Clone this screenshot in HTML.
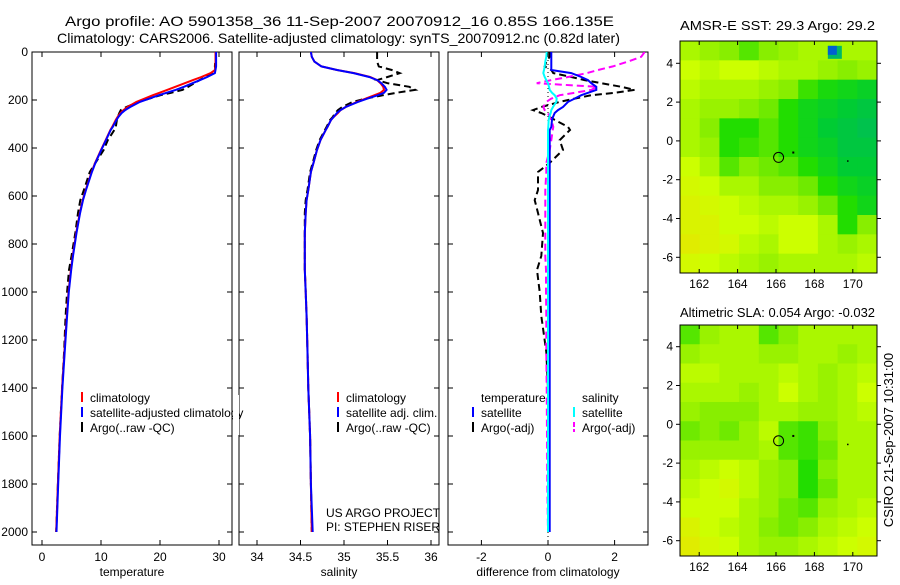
<!DOCTYPE html>
<html><head><meta charset="utf-8"><style>
body{margin:0;background:#fff}
svg text{font-family:"Liberation Sans",sans-serif;font-size:12px;fill:#000}
</style></head><body>
<svg id="c" width="900" height="580" xmlns="http://www.w3.org/2000/svg">
<rect width="900" height="580" fill="#fff"/>
<text x="65" y="26" textLength="549" lengthAdjust="spacingAndGlyphs" style="font-size:14px">Argo profile: AO 5901358_36 11-Sep-2007 20070912_16 0.85S 166.135E</text>
<text x="57" y="43" textLength="563" lengthAdjust="spacingAndGlyphs" style="font-size:14px">Climatology: CARS2006. Satellite-adjusted climatology: synTS_20070912.nc (0.82d later)</text>
<text x="680" y="30" textLength="195" lengthAdjust="spacingAndGlyphs" style="font-size:13px">AMSR-E SST: 29.3 Argo: 29.2</text>
<text x="680" y="317" textLength="195" lengthAdjust="spacingAndGlyphs" style="font-size:13px">Altimetric SLA: 0.054 Argo: -0.032</text>
<text transform="translate(893,440) rotate(-90)" text-anchor="middle" style="font-size:13px">CSIRO 21-Sep-2007 10:31:00</text>
<g id="g"></g>
</svg>
<script>
const depths=[0,20,40,60,75,88,104,117,130,145,158,170,180,194,208,229,242,254,271,283,312,325,367,408,462,500,575,617,671,754,850,908,1000,1100,1250,1400,1600,1800,2000];
const tempClim=[29.4,29.4,29.4,29.4,29.3,28.6,27.0,25.6,24.2,22.6,21.2,19.9,18.8,17.4,16.0,14.5,13.8,13.3,12.8,12.5,11.9,11.6,10.8,10.0,9.0,8.4,7.4,6.9,6.4,5.8,5.2,4.9,4.5,4.2,3.8,3.4,3.0,2.7,2.4];
const tempSatDiff=[.1,.1,.1,.1,.1,.7,1.0,1.2,1.3,1.45,1.45,1.2,1.0,.8,.6,.45,.3,.2,.15,.12,.1,.05,.05,.05,.05,.05,.05,.05,.05,.05,.05,.05,.05,.05,.05,.05,.05,.05,.05];
const tempArgoDiff=[.05,.05,-.05,-.1,.1,.16,.7,1.1,1.6,2.2,2.6,2.0,1.3,.8,.35,-.2,-.45,-.2,.05,.2,.6,.66,.35,.45,.05,-.3,-.3,-.4,-.3,-.15,-.2,-.33,-.25,-.2,-.05,0,0,0,0];
const salClim=[34.62,34.63,34.66,34.74,34.92,35.12,35.30,35.38,35.42,35.45,35.46,35.42,35.35,35.25,35.15,35.02,34.96,34.93,34.88,34.85,34.81,34.79,34.73,34.69,34.65,34.62,34.59,34.57,34.56,34.55,34.55,34.55,34.56,34.57,34.58,34.59,34.61,34.62,34.63];
const salSat=[34.62,34.63,34.66,34.74,34.92,35.11,35.29,35.38,35.43,35.47,35.49,35.46,35.39,35.27,35.16,35.02,34.96,34.92,34.88,34.85,34.81,34.79,34.73,34.69,34.65,34.62,34.59,34.57,34.56,34.55,34.55,34.55,34.56,34.57,34.58,34.59,34.61,34.62,34.64];
const salArgo=[35.38,35.38,35.38,35.40,35.55,35.64,35.5,35.38,35.5,35.75,35.82,35.6,35.45,35.25,35.1,34.98,34.93,34.9,34.87,34.84,34.8,34.78,34.72,34.68,34.64,34.61,34.58,34.56,34.55,34.55,34.55,34.55,34.56,34.57,34.58,34.59,34.61,34.62,34.63];
const salSatDiff=[-.04,-.05,-.08,-.1,-.12,-.14,-.1,-.05,0,.03,.05,.12,.2,.26,.25,.15,.1,.08,.04,.02,.01,0,0,0,0,0,0,0,0,0,0,0,0,0,0,0,0,0,0];
const salArgoDiff=[2.9,2.8,2.4,1.95,1.5,1.17,.6,.1,-.34,1.47,1.3,.8,.35,.1,-.05,-.14,-.1,0,.05,.1,.16,.14,.1,.05,-.05,-.05,-.08,-.08,-.08,-.08,-.08,-.06,-.06,-.05,-.05,-.04,-.03,-.02,0];
const depthTicks=[0,200,400,600,800,1000,1200,1400,1600,1800,2000];
const tempTicks=[0,10,20,30];
const salTicks=[34,34.5,35,35.5,36];
const diffTicks=[-2,0,2];
const lonTicks=[162,164,166,168,170];
const latTicks=[4,2,0,-2,-4,-6];
const sstGrid=[
[.3,.35,.4,.5,.4,.35,.3,.3,.3,.3],
[.2,.25,.2,.2,.25,.3,.3,.35,.4,.35],
[.25,.3,.3,.3,.35,.4,.55,.65,.7,.75],
[.3,.35,.35,.4,.45,.6,.7,.75,.8,.85],
[.3,.4,.6,.6,.5,.6,.7,.8,.85,.9],
[.3,.35,.6,.55,.5,.6,.7,.75,.85,.85],
[.2,.3,.5,.4,.45,.5,.6,.7,.8,.8],
[.15,.2,.3,.3,.4,.4,.45,.6,.7,.75],
[.1,.15,.2,.25,.3,.3,.35,.45,.6,.7],
[.1,.1,.2,.2,.25,.2,.2,.3,.6,.4],
[.05,.1,.15,.25,.3,.2,.2,.3,.35,.3],
[.15,.2,.25,.3,.35,.3,.3,.3,.3,.25]];
const slaGrid=[
[.5,.35,.3,.3,.5,.4,.3,.3,.3,.3],
[.35,.3,.3,.3,.35,.35,.3,.3,.35,.3],
[.25,.25,.3,.3,.3,.25,.3,.35,.3,.25],
[.3,.3,.3,.35,.3,.2,.3,.35,.3,.2],
[.35,.4,.4,.4,.3,.3,.35,.35,.3,.25],
[.45,.4,.45,.35,.25,.5,.55,.4,.3,.3],
[.35,.35,.35,.35,.3,.5,.55,.45,.3,.3],
[.3,.25,.2,.25,.35,.4,.6,.4,.3,.3],
[.25,.2,.15,.25,.35,.4,.6,.45,.3,.3],
[.2,.2,.2,.3,.35,.45,.5,.35,.3,.25],
[.1,.2,.25,.3,.4,.45,.4,.3,.25,.2],
[.05,.15,.2,.3,.35,.35,.3,.25,.2,.15]];
const floatLon=166.135, floatLat=-0.85;

const NS='http://www.w3.org/2000/svg', G=document.getElementById('g');
function mk(t,a,p){const e=document.createElementNS(NS,t);for(const k in a)e.setAttribute(k,a[k]);(p||G).appendChild(e);return e;}
const yD=d=>52+d*0.24;
const xT=v=>42+v*5.9, xS=v=>257+(v-34)*87, xDf=v=>548+v*33.3;
const panels=[{x0:32,x1:232,sx:xT,ticks:tempTicks,lab:'temperature',n:'temperature'},
{x0:239,x1:439,sx:xS,ticks:salTicks,lab:'salinity',n:'salinity'},
{x0:448,x1:648,sx:xDf,ticks:diffTicks,lab:'difference from climatology',n:'difference'}];
const B=545;
panels.forEach((p,i)=>{
  const cp=mk('clipPath',{id:'cp'+i});mk('rect',{x:p.x0,y:52,width:p.x1-p.x0,height:B-52},cp);
  const fr=mk('rect',{x:p.x0,y:52,width:p.x1-p.x0,height:B-52,fill:'none',stroke:'#000','stroke-width':1});
  
  
  depthTicks.forEach(d=>{const y=yD(d);
    mk('line',{x1:p.x0,x2:p.x0+5,y1:y,y2:y,stroke:'#000'});mk('line',{x1:p.x1,x2:p.x1-5,y1:y,y2:y,stroke:'#000'});
    if(i===0){const t=mk('text',{x:28,y:y+4,'text-anchor':'end'});t.textContent=d;
      
      }
  });
  p.ticks.forEach(v=>{const x=p.sx(v);
    mk('line',{x1:x,x2:x,y1:52,y2:57,stroke:'#000'});mk('line',{x1:x,x2:x,y1:B,y2:B-5,stroke:'#000'});
    const t=mk('text',{x:x,y:B+16,'text-anchor':'middle'});t.textContent=v;
    
    });
  const t=mk('text',{x:(p.x0+p.x1)/2,y:576,'text-anchor':'middle'});t.textContent=p.lab;
  
  
});
function line(vals,sx,col,dash,ci,name){
  const pts=vals.map((v,k)=>sx(v).toFixed(1)+','+yD(depths[k]).toFixed(1)).join(' ');
  const a={points:pts,fill:'none',stroke:col,'stroke-width':2,'clip-path':'url(#cp'+ci+')'};
  if(dash)a['stroke-dasharray']='7,4';
  const e=mk('polyline',a);
  
  
}
const tempSat=tempClim.map((v,k)=>v+tempSatDiff[k]);
const tempArgo=tempClim.map((v,k)=>v+tempArgoDiff[k]);
line(tempArgo,xT,'#000',1,0,'temp-argo-line');
line(tempClim,xT,'#f00',0,0,'temp-climatology-line');
line(tempSat,xT,'#00f',0,0,'temp-satellite-line');
line(salArgo,xS,'#000',1,1,'sal-argo-line');
line(salClim,xS,'#f00',0,1,'sal-climatology-line');
line(salSat,xS,'#00f',0,1,'sal-satellite-line');
mk('line',{x1:548,x2:548,y1:52,y2:B,stroke:'#000','stroke-dasharray':'1,3'});
line(tempArgoDiff,xDf,'#000',1,2,'temp-argo-diff-line');
line(salArgoDiff,xDf,'#f0f',1,2,'sal-argo-diff-line');
line(tempSatDiff,xDf,'#00f',0,2,'temp-satellite-diff-line');
line(salSatDiff,xDf,'#0ff',0,2,'sal-satellite-diff-line');
function leg(x,y,col,txt,name,dash){
  if(col){const l=mk('line',{x1:x,x2:x,y1:y-10,y2:y,stroke:col,'stroke-width':2});if(dash)l.setAttribute('stroke-dasharray','5,2');}
  const t=mk('text',{x:x+8,y:y});t.textContent=txt;
  
  
}
leg(82,402,'#f00','climatology','legend-climatology');
leg(82,417,'#00f','satellite-adjusted climatology','legend-satellite-adjusted');
leg(82,432,'#000','Argo(..raw -QC)','legend-argo');
leg(338,402,'#f00','climatology','legend-sal-climatology');
leg(338,417,'#00f','satellite adj. clim.','legend-sal-satellite');
leg(338,432,'#000','Argo(..raw -QC)','legend-sal-argo');
leg(473,402,null,'temperature','legend-temperature-header');
leg(473,417,'#00f','satellite','legend-diff-temp-satellite');
leg(473,432,'#000','Argo(-adj)','legend-diff-temp-argo');
leg(574,402,null,'salinity','legend-salinity-header');
leg(574,417,'#0ff','satellite','legend-diff-sal-satellite');
leg(574,432,'#f0f','Argo(-adj)','legend-diff-sal-argo',1);
mk('rect',{x:233,y:395,width:6,height:40,fill:'#fff'});
mk('line',{x1:232,x2:232,y1:52,y2:B,stroke:'#000'});
const t1=mk('text',{x:326,y:517,textLength:114,lengthAdjust:'spacingAndGlyphs'});t1.textContent='US ARGO PROJECT';


const t2=mk('text',{x:326,y:531,textLength:114,lengthAdjust:'spacingAndGlyphs'});t2.textContent='PI: STEPHEN RISER';



const stops=[[0,[230,230,0]],[.2,[204,255,0]],[.4,[136,238,0]],[.6,[34,221,0]],[.8,[0,204,51]],[1,[0,184,102]]];
function cmap(v){for(let i=1;i<stops.length;i++){if(v<=stops[i][0]){const a=stops[i-1],b=stops[i],f=(v-a[0])/(b[0]-a[0]);return 'rgb('+a[1].map((c,j)=>Math.round(c+(b[1][j]-c)*f)).join(',')+')';}}return 'rgb(0,184,102)';}
function map(grid,top,bot,name,y4){
  const x0=680,x1=877,lonL=161.0,lonR=171.26,dy=19.4;
  const mx=lon=>x0+(lon-lonL)*(x1-x0)/(lonR-lonL);
  const my=lat=>y4+(4-lat)*dy;
  const rows=grid.length,cols=grid[0].length,cw=(x1-x0)/cols,ch=(bot-top)/rows;
  grid.forEach((r,ri)=>r.forEach((v,ci)=>{
    const c=mk('rect',{x:x0+ci*cw,y:top+ri*ch,width:cw+0.5,height:ch+0.5,fill:cmap(v)});
    
    
  }));
  const f=mk('rect',{x:x0,y:top,width:x1-x0,height:bot-top,fill:'none',stroke:'#000'});
  
  
  lonTicks.forEach(l=>{const x=mx(l);mk('line',{x1:x,x2:x,y1:top,y2:top+4,stroke:'#000'});mk('line',{x1:x,x2:x,y1:bot,y2:bot-4,stroke:'#000'});
    const t=mk('text',{x:x,y:bot+15,'text-anchor':'middle'});t.textContent=l;
    
    });
  latTicks.forEach(l=>{const y=my(l);mk('line',{x1:x0,x2:x0-4,y1:y,y2:y,stroke:'#000'});mk('line',{x1:x1,x2:x1+4,y1:y,y2:y,stroke:'#000'});
    const t=mk('text',{x:673,y:y+4,'text-anchor':'end'});t.textContent=l;
    
    });
  const m=mk('circle',{cx:mx(floatLon),cy:my(floatLat),r:5,fill:'none',stroke:'#000'});
  
  
  mk('rect',{x:mx(166.9)-1,y:my(-0.6)-1,width:2,height:2,fill:'#000'});
  mk('rect',{x:mx(169.7),y:my(-1.0),width:1.5,height:1.5,fill:'#000'});
  return {mx,my};
}
const m1=map(sstGrid,41,273,'sst-map',63.3);
mk('rect',{x:m1.mx(168.7),y:m1.my(4.9),width:14,height:13,fill:'#00b866'});
mk('rect',{x:m1.mx(168.7),y:m1.my(4.9),width:9,height:9,fill:'#0060d0'});
map(slaGrid,325,556,'sla-map',346.7);
</script>
</body></html>
